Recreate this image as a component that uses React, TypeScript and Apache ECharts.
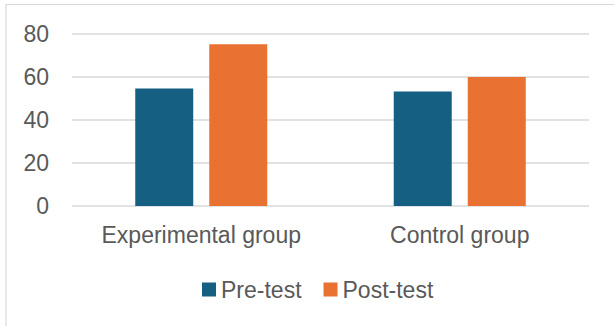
import React, { useEffect, useRef } from "react";
import * as echarts from "echarts";

const categories = ["Experimental group", "Control group"];
const preTest = [54.6, 53.3];
const postTest = [75.2, 60];
const yTicks = { min: 0, max: 80, interval: 20 };

const FONT = "Liberation Sans, Arial, sans-serif";
const TEXT = "#595959";
const SIZE = 23;

export default function App() {
  const ref = useRef<HTMLDivElement>(null);

  useEffect(() => {
    if (!ref.current) return;
    const chart = echarts.init(ref.current, null, { renderer: "svg" });
    chart.setOption({
      animation: false,
      backgroundColor: "#ffffff",
      textStyle: { fontFamily: FONT },
      graphic: [
        {
          type: "rect",
          shape: { x: 6, y: 4.5, width: 800, height: 500 },
          style: { fill: "none", stroke: "#d9d9d9", lineWidth: 1.2 },
          silent: true,
        },
      ],
      grid: { left: 72, right: 25, top: 34, bottom: 120, containLabel: false },
      legend: {
        data: ["Pre-test", "Post-test"],
        left: 197,
        top: 273,
        itemWidth: 14,
        itemHeight: 14,
        itemGap: 22,
        icon: "rect",
        textStyle: { color: TEXT, fontSize: SIZE, fontFamily: FONT },
      },
      xAxis: {
        type: "category",
        data: categories,
        axisLine: { show: false },
        axisTick: { show: false },
        axisLabel: {
          color: TEXT,
          fontSize: SIZE,
          fontFamily: FONT,
          margin: 17,
          interval: 0,
        },
      },
      yAxis: {
        type: "value",
        min: yTicks.min,
        max: yTicks.max,
        interval: yTicks.interval,
        axisLine: { show: false },
        axisTick: { show: false },
        axisLabel: { color: TEXT, fontSize: SIZE, fontFamily: FONT, margin: 23 },
        splitLine: { lineStyle: { color: "#d9d9d9", width: 1.5 } },
      },
      series: [
        {
          name: "Pre-test",
          type: "bar",
          data: preTest,
          barWidth: 58,
          barGap: "27.6%",
          itemStyle: { color: "#156082" },
        },
        {
          name: "Post-test",
          type: "bar",
          data: postTest,
          barWidth: 58,
          barGap: "27.6%",
          itemStyle: { color: "#E97132" },
        },
      ],
    });
    return () => chart.dispose();
  }, []);

  return (
    <div
      ref={ref}
      style={{ position: "fixed", left: 0, top: 0, width: 614, height: 326 }}
    />
  );
}
